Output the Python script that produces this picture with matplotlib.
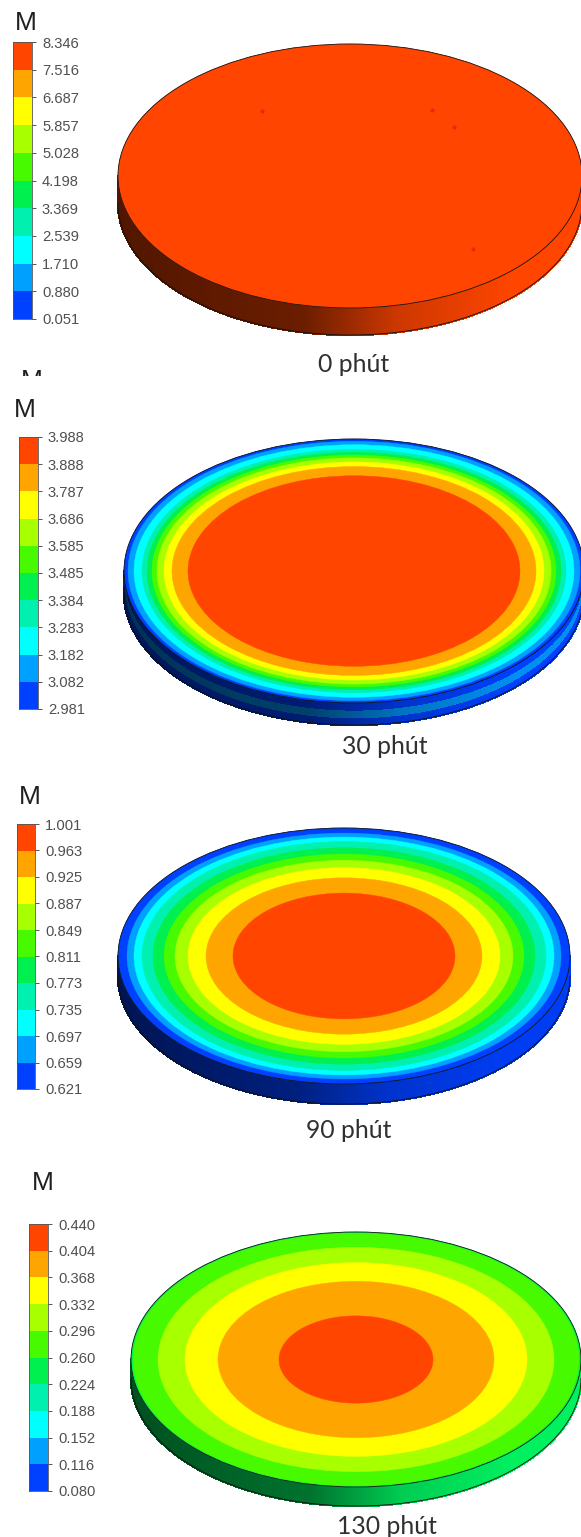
import numpy as np
import matplotlib
matplotlib.use('Agg')
import matplotlib.pyplot as plt
from matplotlib.collections import PolyCollection
from matplotlib.colors import to_rgb
from matplotlib.patches import Ellipse, Rectangle

W, H = 581, 1537

# colour of each level band, lowest to highest
BAND_COLORS = ['#0040ff', '#00a0ff', '#00ffff', '#00f0b0', '#00f050',
               '#48fa00', '#a8ff00', '#ffff00', '#ffa500', '#ff4500']

LABELS_0 = ['0.051', '0.880', '1.710', '2.539', '3.369', '4.198', '5.028', '5.857', '6.687', '7.516', '8.346']
LABELS_30 = ['2.981', '3.082', '3.182', '3.283', '3.384', '3.485', '3.585', '3.686', '3.787', '3.888', '3.988']
LABELS_90 = ['0.621', '0.659', '0.697', '0.735', '0.773', '0.811', '0.849', '0.887', '0.925', '0.963', '1.001']
LABELS_130 = ['0.080', '0.116', '0.152', '0.188', '0.224', '0.260', '0.296', '0.332', '0.368', '0.404', '0.440']

# half width (px) of the outer edge of each band on the disc, same order as BAND_COLORS
RINGS_0 = [0, 0, 0, 0, 0, 0, 0, 0, 0, 232]
RINGS_30 = [230, 226, 220, 212, 207, 202, 197, 190, 182, 166]
RINGS_90 = [226, 217, 210, 202, 191, 180, 169, 156, 138, 111]
RINGS_130 = [0, 0, 0, 0, 225, 223, 198, 171, 138, 77]

SPOTS_X = [262, 432, 454, 473]
SPOTS_Y = [111, 110, 127, 249]

CAPTIONS = ['0 phút', '30 phút', '90 phút', '130 phút']

# x0, y0, x1, y1 of colour bars; M position; caption position
BARS = [(13, 42, 32, 319), (19, 437, 38, 709), (17, 824, 35, 1089), (29, 1224, 48, 1491)]
M_POS = [(15, 23), (14, 410), (19, 797), (32, 1183)]
CAPTION_POS = [(354, 364), (385, 746), (349, 1131), (387, 1526)]
# cx, cy, a, b, thickness
DISCS = [(350, 176, 232, 132, 27), (354, 571, 230, 132, 22),
         (344, 956, 226, 128, 20), (356, 1359.5, 225, 127.5, 19)]

plt.rcParams['font.family'] = ['Liberation Sans', 'DejaVu Sans']
fig = plt.figure(figsize=(W / 100, H / 100), dpi=100, facecolor='white')
ax = fig.add_axes([0, 0, 1, 1])
ax.set_xlim(0, W)
ax.set_ylim(H, 0)
ax.axis('off')


def shade(c, f):
    return tuple(np.array(to_rgb(c)) * f)


def draw_side(cx, cy, a, b, top, bottom, color, stops):
    th = np.linspace(np.pi, 0, 361)
    x = cx + a * np.cos(th)
    y = cy + b * np.sin(th)
    polys, cols = [], []
    for i in range(len(th) - 1):
        polys.append([(x[i], y[i] + top), (x[i + 1], y[i + 1] + top),
                      (x[i + 1], y[i + 1] + bottom), (x[i], y[i] + bottom)])
        t = (x[i] - (cx - a)) / (2 * a)
        cols.append(shade(color, np.interp(t, [0, .4, .6, .85], stops)))
    ax.add_collection(PolyCollection(polys, facecolors=cols, edgecolors=cols, linewidths=1,
                                     antialiaseds=False, zorder=2))


def draw_disc(disc, rings, layers, stops):
    cx, cy, a, b, thick = disc
    for top, bottom, color in layers:
        draw_side(cx, cy, a, b, top * thick, bottom * thick, color, stops)
    th = np.linspace(np.pi, 0, 181)
    ax.plot(cx + a * np.cos(th), cy + b * np.sin(th) + thick, color='#101010', lw=.6, zorder=3)
    for r, c in zip(rings, BAND_COLORS):
        if r > 0:
            ax.add_patch(Ellipse((cx, cy), 2 * r, 2 * r * b / a, fc=c, ec=c, lw=.3, zorder=4))
    ax.add_patch(Ellipse((cx, cy), 2 * a, 2 * b, fc='none', ec='#151515', lw=.6, zorder=5))


def draw_bar(box, labels):
    x0, y0, x1, y1 = box
    cax = fig.add_axes([x0 / W, 1 - y1 / H, (x1 - x0) / W, (y1 - y0) / H])
    vals = [float(v) for v in labels]
    cax.bar(0, np.diff(vals), bottom=vals[:-1], width=1, color=BAND_COLORS)
    cax.set_xlim(-.5, .5)
    cax.set_ylim(vals[0], vals[-1])
    cax.set_xticks([])
    cax.yaxis.tick_right()
    cax.set_yticks(vals)
    cax.set_yticklabels(labels, fontsize=10.6, color='#505050')
    cax.tick_params(axis='y', length=3, width=.7, pad=4.2, color='#555555')
    for s in cax.spines.values():
        s.set_linewidth(.6)
        s.set_color('#555555')


draw_disc(DISCS[0], RINGS_0, [(0, 1, '#ff4500')], [.32, .42, .8, 1])
ax.scatter(SPOTS_X, SPOTS_Y, s=9, color='#e62a10', lw=0, zorder=6)
draw_disc(DISCS[1], RINGS_30, [(0, .4, '#0040ff'), (.4, .75, '#0090f0'), (.75, 1, '#0040ff')], [.35, .45, .8, 1])
draw_disc(DISCS[2], RINGS_90, [(0, 1, '#0040ff')], [.32, .5, .8, .95])
draw_disc(DISCS[3], RINGS_130, [(0, 1, '#00f060')], [.33, .48, .85, 1])

for box, labels in zip(BARS, [LABELS_0, LABELS_30, LABELS_90, LABELS_130]):
    draw_bar(box, labels)

for (x, y) in M_POS:
    ax.text(x, y, 'M', fontsize=19, color='#202020', ha='left', va='center', zorder=8)

# clipped M left over above the second panel
ax.text(21, 381, 'M', fontsize=19, color='#202020', ha='left', va='center', zorder=8)
ax.add_patch(Rectangle((15, 375.5), 40, 20, fc='white', ec='none', zorder=9))

for (x, y), cap in zip(CAPTION_POS, CAPTIONS):
    ax.text(x, y, cap, fontsize=17.8, family=['Lato', 'DejaVu Sans'], color='#303030',
            ha='center', va='center', zorder=8)

fig.savefig('out.png', dpi=100)
